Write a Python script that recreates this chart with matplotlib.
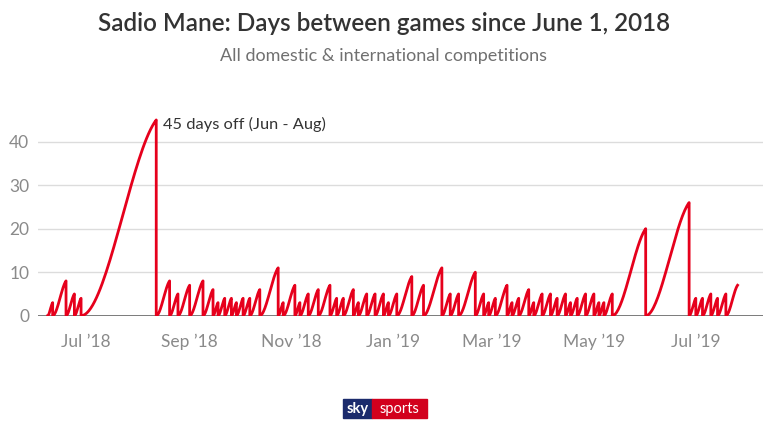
import numpy as np
import matplotlib
matplotlib.use("Agg")
import matplotlib.pyplot as plt
import matplotlib.dates as mdates
from matplotlib.patches import Rectangle

# dates of Mane's games (domestic + international)
game_dates = [
    "2018-06-08", "2018-06-11", "2018-06-19", "2018-06-24", "2018-06-28",
    "2018-08-12", "2018-08-20", "2018-08-25", "2018-09-01", "2018-09-09",
    "2018-09-15", "2018-09-18", "2018-09-22", "2018-09-26", "2018-09-29",
    "2018-10-03", "2018-10-07", "2018-10-13", "2018-10-24", "2018-10-27",
    "2018-11-03", "2018-11-06", "2018-11-11", "2018-11-17", "2018-11-24",
    "2018-11-28", "2018-12-02", "2018-12-08", "2018-12-11", "2018-12-16",
    "2018-12-21", "2018-12-26", "2018-12-29", "2019-01-03", "2019-01-12",
    "2019-01-19", "2019-01-30", "2019-02-04", "2019-02-09", "2019-02-19",
    "2019-02-24", "2019-02-27", "2019-03-03", "2019-03-10", "2019-03-13",
    "2019-03-17", "2019-03-23", "2019-03-26", "2019-03-31", "2019-04-05",
    "2019-04-09", "2019-04-14", "2019-04-17", "2019-04-21", "2019-04-26",
    "2019-05-01", "2019-05-04", "2019-05-07", "2019-05-12", "2019-06-01",
    "2019-06-27", "2019-07-01", "2019-07-05", "2019-07-10", "2019-07-14",
    "2019-07-19",
]
last_day = "2019-07-26"   # line stops here, still counting

tick_dates = ["2018-07-01", "2018-09-01", "2018-11-01", "2019-01-01",
              "2019-03-01", "2019-05-01", "2019-07-01"]
tick_labels = ["Jul \u201918", "Sep \u201918", "Nov \u201918", "Jan \u201919",
               "Mar \u201919", "May \u201919", "Jul \u201919"]
y_ticks = [0, 10, 20, 30, 40]

RED = "#e6001c"
GREY = "#8a8a8a"

plt.rcParams['font.family'] = ['Lato', 'DejaVu Sans']

fig = plt.figure(figsize=(7.68, 4.32), dpi=100)
ax = fig.add_axes([0.049, 0.2692, 0.944, 0.4632])

days = mdates.date2num(np.array(game_dates + [last_day], dtype="datetime64[D]"))

# days since last game: ramps up between games, drops to 0 on match day
t = np.linspace(0, 1, 40)
shape = 2.5 * t**2 - 1.5 * t**3
xs, ys = [], []
for i in range(1, len(days)):
    gap = days[i] - days[i - 1]
    xs.extend(days[i - 1] + gap * t)
    ys.extend(gap * shape)
    if i < len(days) - 1:
        xs.append(days[i])
        ys.append(0)

ax.plot(xs, ys, color=RED, lw=2.0, solid_joinstyle="round", zorder=3)

ax.set_ylim(0, 46)
ax.set_xlim(mdates.date2num(np.datetime64("2018-06-02")),
            mdates.date2num(np.datetime64("2019-08-10")))
ax.set_yticks(y_ticks)
ax.set_xticks(mdates.date2num(np.array(tick_dates, dtype="datetime64[D]")))
ax.set_xticklabels(tick_labels)
ax.grid(axis="y", color="#dcdcdc", lw=1)
ax.axhline(0, color="#666666", lw=1.2, zorder=2)
for s in ax.spines.values():
    s.set_visible(False)
ax.tick_params(length=0, labelsize=12.5, colors=GREY, pad=6)
ax.tick_params(axis="x", pad=13)

peak = days[5]
ax.annotate("45 days off (Jun - Aug)", xy=(peak, 45), xytext=(5, -3),
            textcoords="offset points", ha="left", va="center",
            fontsize=11.8, color="#333333")

fig.text(0.5, 0.945, "Sadio Mane: Days between games since June 1, 2018",
         ha="center", va="center", fontsize=17.5, fontweight="semibold",
         color="#333333")
fig.text(0.5, 0.87, "All domestic & international competitions",
         ha="center", va="center", fontsize=13, color="#707070")

# sky sports badge
fig.add_artist(Rectangle((343 / 768, 1 - 418 / 432), 29 / 768, 19 / 432,
                         transform=fig.transFigure, color="#1b2b6c"))
fig.add_artist(Rectangle((372 / 768, 1 - 418 / 432), 55 / 768, 19 / 432,
                         transform=fig.transFigure, color="#d2001d"))
fig.text(357.5 / 768, 1 - 408.5 / 432, "sky", ha="center", va="center",
         color="white", fontsize=10.5, fontweight="bold")
fig.text(399.5 / 768, 1 - 408.5 / 432, "sports", ha="center", va="center",
         color="white", fontsize=10.5)

fig.savefig("out.png", dpi=100)
